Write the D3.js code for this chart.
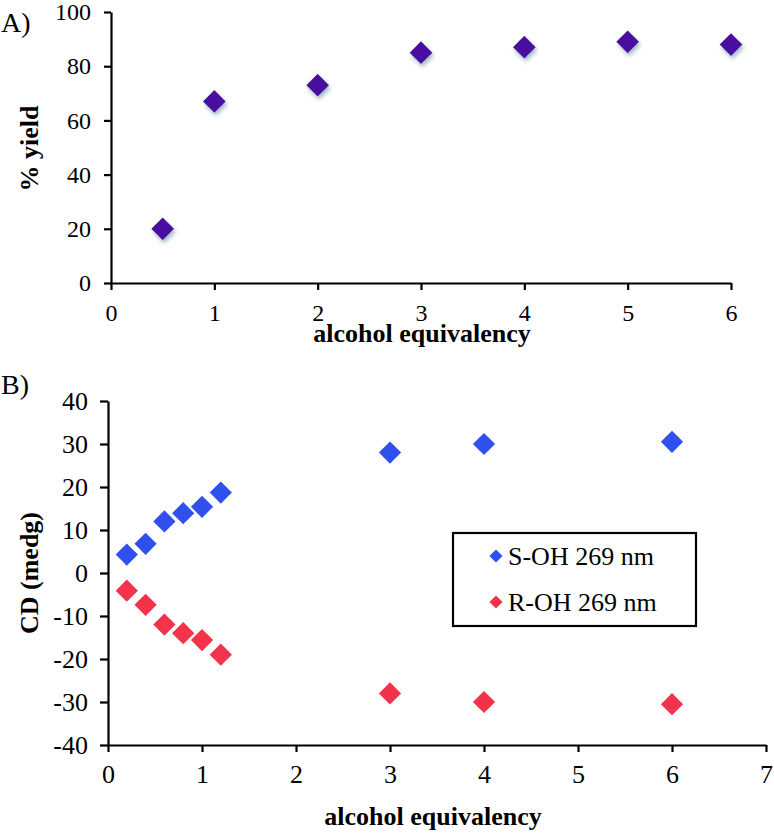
<!DOCTYPE html>
<html><head><meta charset="utf-8">
<script src="https://cdn.jsdelivr.net/npm/d3@7"></script>
<style>body{margin:0;background:#fff}svg{display:block}</style>
</head><body>
<script>
// Panel A data
const yieldX = [0.5, 1, 2, 3, 4, 5, 6];
const yieldY = [20, 67, 73, 85, 87, 89, 88];
const yieldTicksX = [0, 1, 2, 3, 4, 5, 6];
const yieldTicksY = [0, 20, 40, 60, 80, 100];
// Panel B data
const cdX = [0.2, 0.4, 0.6, 0.8, 1.0, 1.2, 3, 4, 6];
const sOH = [4.3, 6.8, 12, 13.9, 15.4, 18.7, 28, 30, 30.5];
const rOH = [-4.1, -7.4, -12, -14, -15.6, -19, -28, -30, -30.5];
const cdTicksX = [0, 1, 2, 3, 4, 5, 6, 7];
const cdTicksY = [-40, -30, -20, -10, 0, 10, 20, 30, 40];
const seriesNames = ["S-OH 269 nm", "R-OH 269 nm"];
const seriesColors = ["#3050ee", "#f2334a"];

const W = 774, H = 834;
const FONT = "'Liberation Serif', 'Times New Roman', serif";
const svg = d3.select("body").append("svg").attr("width", W).attr("height", H)
  .style("font-family", FONT);

const defs = svg.append("defs");
const f = defs.append("filter").attr("id", "shadow").attr("x", "-50%").attr("y", "-50%").attr("width", "200%").attr("height", "200%");
f.append("feDropShadow").attr("dx", 1.5).attr("dy", 3).attr("stdDeviation", 2)
  .attr("flood-color", "#8aa6b8").attr("flood-opacity", 0.8);

const diamond = d3.symbol().type(d3.symbolDiamond2);
const fmt = d => String(d); // plain hyphen-minus as in the original

function styleAxis(g, fs) {
  g.attr("font-family", null).attr("font-size", null);
  g.selectAll("path.domain").attr("stroke", "#000").attr("stroke-width", 2.2);
  g.selectAll(".tick line").attr("stroke", "#000").attr("stroke-width", 2.2);
  g.selectAll(".tick text").attr("font-size", fs).attr("fill", "#000")
    .style("font-family", FONT);
}

// ---- Panel A ----
const xA = d3.scaleLinear().domain([0, 6]).range([111, 731]);
const yA = d3.scaleLinear().domain([0, 100]).range([283, 12]);

const gAx = svg.append("g").attr("transform", `translate(0,${yA(0)})`)
  .call(d3.axisBottom(xA).tickValues(yieldTicksX).tickFormat(fmt).tickSize(7).tickSizeOuter(0).tickPadding(14));
styleAxis(gAx, 24);
const gAy = svg.append("g").attr("transform", `translate(${xA(0)},0)`)
  .call(d3.axisLeft(yA).tickValues(yieldTicksY).tickFormat(fmt).tickSize(7).tickSizeOuter(0).tickPadding(13));
styleAxis(gAy, 24);

svg.append("g").selectAll("path").data(yieldX.map((x, i) => [x, yieldY[i]])).join("path")
  .attr("d", diamond.size(330))
  .attr("transform", d => `translate(${xA(d[0])},${yA(d[1])})`)
  .attr("fill", "#4a0fa0").attr("filter", "url(#shadow)");

svg.append("text").attr("x", 422).attr("y", 342).attr("text-anchor", "middle")
  .attr("font-size", 26).attr("font-weight", "bold").text("alcohol equivalency");
svg.append("text").attr("transform", `translate(38,${yA(50) + 1}) rotate(-90)`).attr("text-anchor", "middle")
  .attr("font-size", 26).attr("font-weight", "bold").text("% yield");
svg.append("text").attr("x", 1).attr("y", 32).attr("font-size", 28).text("A)");

// ---- Panel B ----
const xB = d3.scaleLinear().domain([0, 7]).range([108, 766]);
const yB = d3.scaleLinear().domain([-40, 40]).range([745, 401]);

const gBx = svg.append("g").attr("transform", `translate(0,${yB(-40)})`)
  .call(d3.axisBottom(xB).tickValues(cdTicksX).tickFormat(fmt).tickSize(7).tickSizeOuter(0).tickPadding(13));
styleAxis(gBx, 26);
const gBy = svg.append("g").attr("transform", `translate(${xB(0)},0)`)
  .call(d3.axisLeft(yB).tickValues(cdTicksY).tickFormat(fmt).tickSize(8).tickSizeOuter(0).tickPadding(12));
styleAxis(gBy, 26);

[sOH, rOH].forEach((vals, si) => {
  svg.append("g").selectAll("path").data(cdX.map((x, i) => [x, vals[i]])).join("path")
    .attr("d", diamond.size(315))
    .attr("transform", d => `translate(${xB(d[0])},${yB(d[1])})`)
    .attr("fill", seriesColors[si]);
});

svg.append("text").attr("x", 433).attr("y", 825).attr("text-anchor", "middle")
  .attr("font-size", 26).attr("font-weight", "bold").text("alcohol equivalency");
svg.append("text").attr("transform", `translate(38,${yB(0)}) rotate(-90)`).attr("text-anchor", "middle")
  .attr("font-size", 26).attr("font-weight", "bold").text("CD (medg)");
svg.append("text").attr("x", 1).attr("y", 394).attr("font-size", 28).text("B)");

// Legend
const lg = svg.append("g");
lg.append("rect").attr("x", 453).attr("y", 533).attr("width", 243).attr("height", 93)
  .attr("fill", "#fff").attr("stroke", "#000").attr("stroke-width", 2.2);
seriesNames.forEach((name, i) => {
  const cy = 556 + i * 46;
  lg.append("path").attr("d", diamond.size(110)).attr("transform", `translate(496,${cy})`).attr("fill", seriesColors[i]);
  lg.append("text").attr("x", 508).attr("y", cy + 9).attr("font-size", 26).text(name);
});
</script>
</body></html>
